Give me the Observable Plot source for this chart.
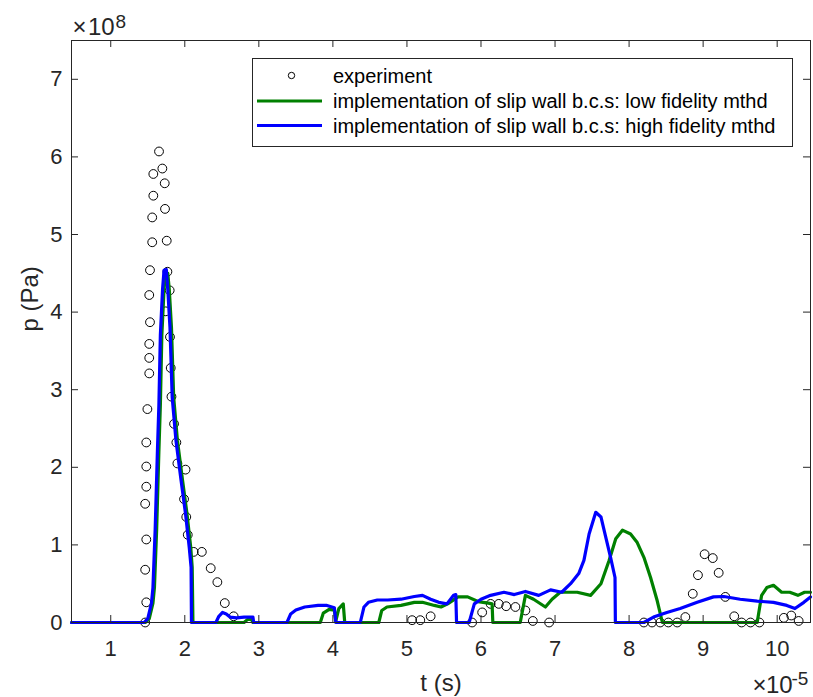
<!DOCTYPE html>
<html>
<head>
<meta charset="utf-8">
<script src="https://cdn.jsdelivr.net/npm/d3@7"></script>
<script src="https://cdn.jsdelivr.net/npm/@observablehq/plot@0.6"></script>
<style>
  html, body { margin: 0; padding: 0; background: #fff; }
  #wrap { position: relative; width: 813px; height: 697px; font-family: "Liberation Sans", Arial, sans-serif; }
  #legend { position: absolute; left: 252px; top: 58px; }
</style>
</head>
<body>
<div id="wrap"></div>
<script>
// t in units of 1e-5 s, p in units of 1e8 Pa
const xTicks = [1, 2, 3, 4, 5, 6, 7, 8, 9, 10];
const yTicks = [0, 1, 2, 3, 4, 5, 6, 7];
const seriesNames = [
  "experiment",
  "implementation of slip wall b.c.s: low fidelity mthd",
  "implementation of slip wall b.c.s: high fidelity mthd"
];

// experiment
const tExp = [1.465, 1.48, 1.465, 1.48, 1.465, 1.48, 1.48, 1.48, 1.495, 1.52, 1.52, 1.52, 1.53, 1.52, 1.53, 1.56, 1.56, 1.575, 1.575,
  1.652, 1.697, 1.729, 1.733, 1.756, 1.765, 1.796, 1.742, 1.80, 1.81, 1.82, 1.855, 1.886, 1.90, 2.01, 1.99, 2.02, 2.04, 2.12, 2.23, 2.35, 2.44, 2.54, 2.66,
  5.07, 5.18, 5.32, 5.88, 6.016, 6.13, 6.24, 6.34, 6.465, 6.60, 6.70, 6.92,
  8.20, 8.31, 8.42, 8.53, 8.65, 8.76, 8.86, 8.93, 9.02, 9.13, 9.21, 9.30, 9.42, 9.52, 9.64, 9.76, 10.09, 10.19, 10.29];
const pExp = [0.0, 0.26, 0.68, 1.07, 1.53, 1.75, 2.01, 2.32, 2.75, 3.21, 3.41, 3.59, 3.87, 4.22, 4.54, 4.90, 5.22, 5.50, 5.78,
  6.07, 5.85, 5.66, 5.33, 4.92, 4.52, 4.28, 4.01, 3.68, 3.28, 2.91, 2.56, 2.32, 2.05, 1.97, 1.59, 1.36, 1.13, 0.91, 0.91, 0.70, 0.52, 0.25, 0.08,
  0.03, 0.03, 0.08, 0.0, 0.13, 0.24, 0.24, 0.21, 0.20, 0.155, 0.02, 0.0,
  0.0, 0.0, 0.0, 0.0, 0.0, 0.07, 0.37, 0.61, 0.88, 0.83, 0.64, 0.33, 0.08, 0.0, 0.0, 0.0, 0.06, 0.09, 0.02];

// low fidelity (green)
const tLow = [0.47, 1.47, 1.52, 1.57, 1.59, 1.62, 1.65, 1.67, 1.69, 1.72, 1.74, 1.77, 1.79, 1.82, 1.85, 1.90, 1.97, 2.03, 2.08, 2.10, 2.11,
  2.80, 2.85, 2.90, 2.92, 3.83, 3.87, 3.95, 4.02, 4.04, 4.08, 4.14, 4.16,
  4.62, 4.66, 4.73, 4.92, 5.10, 5.21, 5.37, 5.46, 5.55, 5.69, 5.82, 5.96, 6.10, 6.15, 6.16,
  6.53, 6.60, 6.71, 6.87, 6.96, 7.07, 7.30, 7.48, 7.62, 7.73, 7.82, 7.91, 8.02, 8.11, 8.20, 8.29, 8.38, 8.45,
  9.73, 9.79, 9.86, 9.95, 10.06, 10.17, 10.28, 10.37, 10.45];
const pLow = [0, 0, 0.05, 0.25, 0.45, 1.2, 2.2, 2.8, 3.7, 4.3, 4.5, 4.5, 4.3, 3.8, 2.9, 2.35, 1.83, 1.40, 0.97, 0.71, 0,
  0, 0.04, 0.04, 0, 0, 0.12, 0.17, 0.16, 0.02, 0.18, 0.24, 0,
  0, 0.155, 0.2, 0.22, 0.26, 0.26, 0.22, 0.2, 0.24, 0.33, 0.33, 0.27, 0.25, 0.24, 0,
  0, 0.35, 0.30, 0.20, 0.30, 0.39, 0.39, 0.35, 0.50, 0.80, 1.08, 1.19, 1.14, 1.03, 0.84, 0.58, 0.28, 0,
  0, 0.35, 0.45, 0.48, 0.39, 0.39, 0.35, 0.39, 0.39];

// high fidelity (blue)
const tHigh = [0.47, 1.45, 1.50, 1.55, 1.57, 1.60, 1.63, 1.65, 1.67, 1.70, 1.72, 1.75, 1.77, 1.80, 1.83, 1.88, 1.95, 2.01, 2.06, 2.085, 2.09,
  2.42, 2.46, 2.51, 2.56, 2.61, 2.70, 2.80, 2.92, 2.93,
  3.38, 3.43, 3.50, 3.62, 3.80, 3.92, 4.02, 4.04,
  4.37, 4.42, 4.48, 4.60, 4.74, 4.92, 5.10, 5.21, 5.32, 5.43, 5.54, 5.63, 5.66, 5.67,
  5.84, 5.91, 6.00, 6.13, 6.31, 6.45, 6.60, 6.78, 6.94, 7.09, 7.21, 7.32, 7.39, 7.46, 7.55, 7.62, 7.68, 7.75, 7.81, 7.815,
  8.20, 8.33, 8.51, 8.69, 8.92, 9.14, 9.28, 9.50, 9.73, 9.95, 10.13, 10.24, 10.36, 10.45];
const pHigh = [0, 0, 0.05, 0.25, 0.45, 1.2, 2.2, 2.8, 3.7, 4.3, 4.54, 4.55, 4.3, 3.8, 2.9, 2.35, 1.83, 1.40, 0.97, 0.71, 0,
  0, 0.08, 0.13, 0.11, 0.07, 0.06, 0.07, 0.07, 0,
  0, 0.11, 0.16, 0.2, 0.22, 0.22, 0.19, 0,
  0, 0.2, 0.26, 0.29, 0.29, 0.30, 0.335, 0.35, 0.30, 0.26, 0.24, 0.35, 0.36, 0,
  0, 0.24, 0.30, 0.35, 0.39, 0.36, 0.40, 0.35, 0.42, 0.39, 0.50, 0.63, 0.80, 1.14, 1.42, 1.36, 1.12, 0.84, 0.58, 0,
  0, 0.07, 0.13, 0.18, 0.26, 0.33, 0.335, 0.30, 0.275, 0.26, 0.22, 0.18, 0.26, 0.33];

const exp = tExp.map((t, i) => ({t, p: pExp[i]}));
const low = tLow.map((t, i) => ({t, p: pLow[i]}));
const high = tHigh.map((t, i) => ({t, p: pHigh[i]}));

const GREEN = "#008000", BLUE = "#0000ff", AX = "#262626";
const FONT = '"Liberation Sans", Arial, sans-serif';

const chart = Plot.plot({
  width: 813,
  height: 697,
  marginLeft: 71,
  marginRight: 3,
  marginTop: 40,
  marginBottom: 75,
  x: {domain: [0.47, 10.45]},
  y: {domain: [0, 7.5]},
  style: {fontFamily: FONT, fontSize: "22px", color: AX, background: "#fff"},
  marks: [
    Plot.dot(exp, {x: "t", y: "p", r: 4.4, stroke: "#000", strokeWidth: 1, fill: "none"}),
    Plot.line(low, {x: "t", y: "p", stroke: GREEN, strokeWidth: 3.2, strokeLinejoin: "round"}),
    Plot.line(high, {x: "t", y: "p", stroke: BLUE, strokeWidth: 3.2, strokeLinejoin: "round"}),
    Plot.frame({stroke: AX, strokeWidth: 1}),
    Plot.tickX(xTicks, {x: d => d, insetTop: 575, stroke: AX}),
    Plot.tickX(xTicks, {x: d => d, insetBottom: 575, stroke: AX}),
    Plot.tickY(yTicks, {y: d => d, insetRight: 732, stroke: AX}),
    Plot.tickY(yTicks, {y: d => d, insetLeft: 732, stroke: AX}),
    Plot.axisX(xTicks, {anchor: "bottom", tickSize: 0, tickPadding: 18, label: null, fontSize: 22, tickFormat: d => String(d)}),
    Plot.axisY(yTicks, {anchor: "left", tickSize: 0, tickPadding: 9, label: null, fontSize: 22, tickFormat: d => String(d)}),
    Plot.text(["t (s)"], {frameAnchor: "bottom", dy: 68, lineAnchor: "bottom", fontSize: 24, fill: AX}),
    Plot.text(["p (Pa)"], {frameAnchor: "left", dx: -41, rotate: -90, lineAnchor: "middle", fontSize: 24, fill: AX}),
    // exponent label, top-left
    Plot.text(["×"], {frameAnchor: "top-left", dx: 1, dy: -6, textAnchor: "start", lineAnchor: "bottom", fontSize: 24, fill: AX}),
    Plot.text(["10"], {frameAnchor: "top-left", dx: 16.5, dy: -6, textAnchor: "start", lineAnchor: "bottom", fontSize: 24, fill: AX}),
    Plot.text(["8"], {frameAnchor: "top-left", dx: 44, dy: -13, textAnchor: "start", lineAnchor: "bottom", fontSize: 19, fill: AX}),
    // exponent label, bottom-right
    Plot.text(["×"], {frameAnchor: "bottom-right", dx: -58, dy: 70, textAnchor: "start", lineAnchor: "bottom", fontSize: 24, fill: AX}),
    Plot.text(["10"], {frameAnchor: "bottom-right", dx: -44.5, dy: 70, textAnchor: "start", lineAnchor: "bottom", fontSize: 24, fill: AX}),
    Plot.text(["-5"], {frameAnchor: "bottom-right", dx: -19, dy: 62, textAnchor: "start", lineAnchor: "bottom", fontSize: 19, fill: AX})
  ]
});

const wrap = document.getElementById("wrap");
wrap.appendChild(chart);

// legend overlay
const W = 541, H = 89;
const rows = [17.5, 43, 67.5];
const ns = "http://www.w3.org/2000/svg";
const lg = document.createElementNS(ns, "svg");
lg.setAttribute("id", "legend");
lg.setAttribute("width", W);
lg.setAttribute("height", H);
let html = `<rect x="0.5" y="0.5" width="${W - 1}" height="${H - 1}" fill="#fff" stroke="${AX}" stroke-width="1"/>`;
html += `<circle cx="39.5" cy="${rows[0]}" r="3.2" fill="none" stroke="#000" stroke-width="1"/>`;
html += `<line x1="5" x2="70" y1="${rows[1]}" y2="${rows[1]}" stroke="${GREEN}" stroke-width="3"/>`;
html += `<line x1="5" x2="70" y1="${rows[2]}" y2="${rows[2]}" stroke="${BLUE}" stroke-width="3"/>`;
seriesNames.forEach((name, i) => {
  html += `<text x="81" y="${rows[i]}" dy="0.35em" font-family='${FONT}' font-size="20" fill="#000">${name}</text>`;
});
lg.innerHTML = html;
wrap.appendChild(lg);
</script>
</body>
</html>
